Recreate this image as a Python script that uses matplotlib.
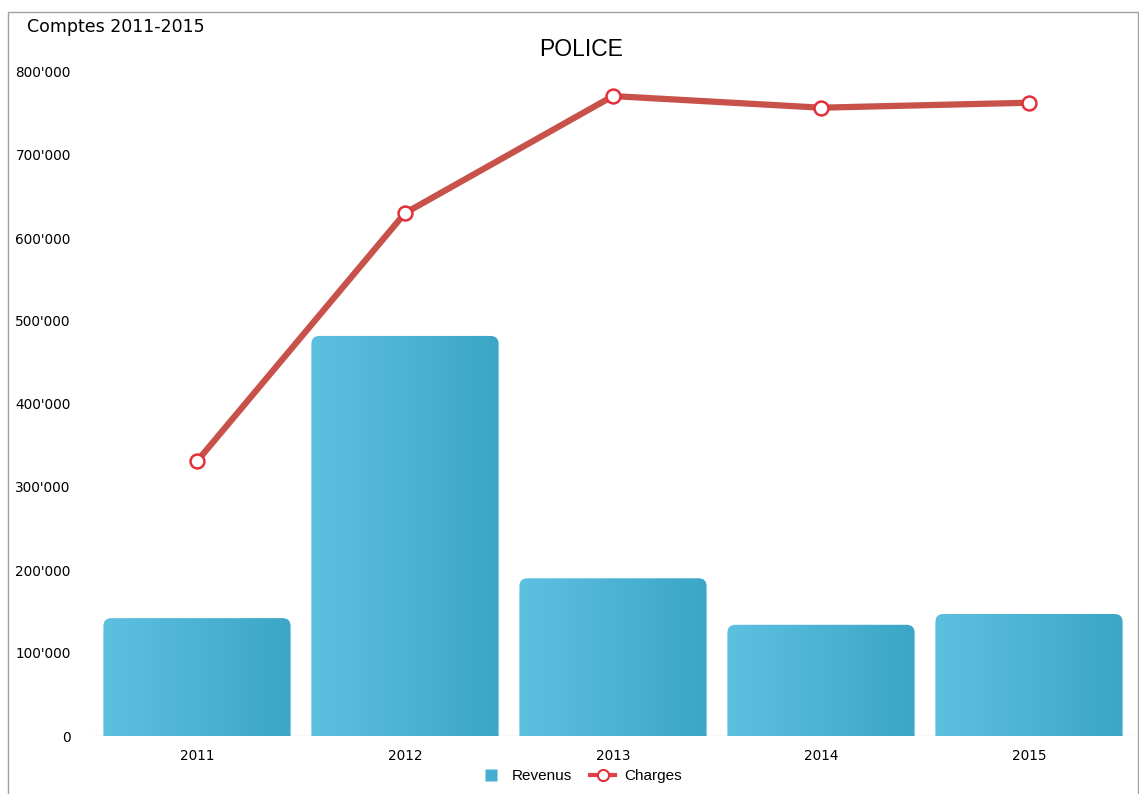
import matplotlib
matplotlib.use('Agg')
import matplotlib.pyplot as plt
from matplotlib.patches import FancyBboxPatch, Rectangle
from matplotlib.lines import Line2D
from matplotlib.ticker import FuncFormatter
import numpy as np

# données
annees = ['2011', '2012', '2013', '2014', '2015']
revenus = [142000, 482000, 190000, 134000, 147000]
charges = [331000, 630000, 771000, 757000, 763000]
y_ticks = [0, 100000, 200000, 300000, 400000, 500000, 600000, 700000, 800000]

W, H, DPI = 1139, 794, 100
fig = plt.figure(figsize=(W / DPI, H / DPI), dpi=DPI)
ax = fig.add_axes([93 / W, 58 / H, 1040 / W, 664 / H])

x = np.arange(len(annees))
bars = ax.bar(x, revenus, width=0.9, color='none', edgecolor='none', zorder=2)

ax.set_xlim(-0.5, len(annees) - 0.5)
ax.set_ylim(0, 800000)

# arrondi du haut des barres, en pixels
px_x = 1040 / len(annees)
px_y = 664 / 800000
r_px = 8
r_x = r_px / px_x
r_y = r_px / px_y

# dégradé horizontal clair -> foncé
c_gauche = np.array([0x5e, 0xc0, 0xe1]) / 255
c_droite = np.array([0x3b, 0xa6, 0xc6]) / 255
t = np.linspace(0, 1, 64)
grad = (c_gauche[None, :] * (1 - t[:, None]) + c_droite[None, :] * t[:, None])[None, :, :]

for rect in bars:
    x0, w, h = rect.get_x(), rect.get_width(), rect.get_height()
    forme = FancyBboxPatch((x0, -r_y), w, h + r_y,
                           boxstyle=f"round,pad=0,rounding_size={r_x}",
                           mutation_aspect=r_y / r_x,
                           facecolor='none', edgecolor='none', transform=ax.transData)
    ax.add_patch(forme)
    im = ax.imshow(grad, extent=(x0, x0 + w, 0, h), aspect='auto', zorder=2)
    im.set_clip_path(forme)

ax.set_xlim(-0.5, len(annees) - 0.5)
ax.set_ylim(0, 800000)

# ligne des charges
ax.plot(x, charges, color='#c8514a', lw=4.5, marker='o', ms=10,
        mfc='white', mec='#e3303a', mew=1.8, zorder=4, solid_capstyle='round')

ax.axhline(0, color='#dcdcdc', lw=1, zorder=1)

for s in ax.spines.values():
    s.set_visible(False)
ax.set_xticks(x)
ax.set_xticklabels(annees)
ax.set_yticks(y_ticks)
ax.yaxis.set_major_formatter(FuncFormatter(lambda v, p: f"{int(v):,}".replace(',', "'")))
ax.tick_params(axis='both', length=0, labelsize=9.8, colors='black')
ax.tick_params(axis='y', pad=16)
ax.tick_params(axis='x', pad=9)

# titres
fig.text(27 / W, 1 - 27 / H, 'Comptes 2011-2015', fontsize=12.5, va='center', ha='left')
fig.text(581 / W, 1 - 50 / H, 'POLICE', fontsize=16.5, va='center', ha='center',
         family='Liberation Sans')

# légende
poignees = [
    Line2D([], [], ls='none', marker='s', ms=8, mfc='#45aed0', mec='none'),
    Line2D([], [], color='#e0404a', lw=3, marker='o', ms=8, mfc='white', mec='#e3303a', mew=1.5),
]
fig.legend(poignees, ['Revenus', 'Charges'], loc='center', bbox_to_anchor=(580 / W, 1 - 776 / H),
           ncol=2, frameon=False, prop={'family': 'Liberation Sans', 'size': 11},
           handlelength=1.6, columnspacing=1.2, handletextpad=0.6)

# cadre
fig.patches.append(Rectangle((8 / W, -0.05), 1130 / W, 1.05 - 12 / H, transform=fig.transFigure,
                             fill=False, edgecolor='#a0a0a0', lw=1))

fig.savefig('out.png', dpi=DPI)
